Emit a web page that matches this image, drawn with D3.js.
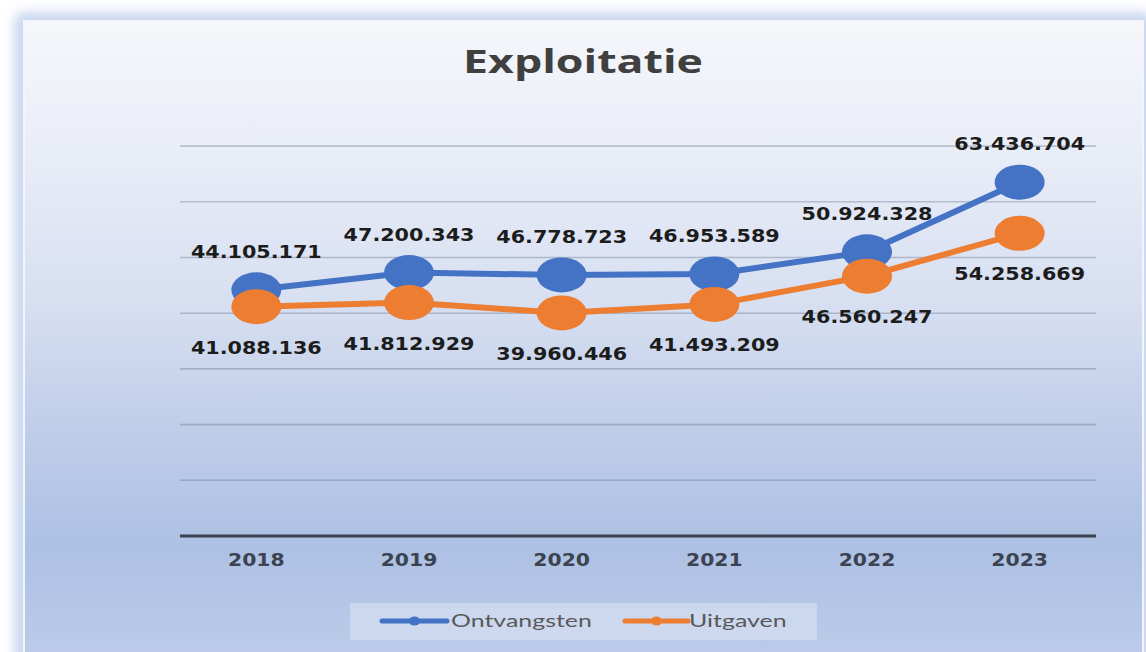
<!DOCTYPE html>
<html>
<head>
<meta charset="utf-8">
<script src="https://cdn.jsdelivr.net/npm/d3@7"></script>
<style>
html,body{margin:0;padding:0;background:#ffffff;}
svg{display:block;}
</style>
</head>
<body>
<svg id="chart" width="1146" height="652"></svg>
<script>
const years = ["2018", "2019", "2020", "2021", "2022", "2023"];
const ontvangsten = [44105171, 47200343, 46778723, 46953589, 50924328, 63436704];
const uitgaven = [41088136, 41812929, 39960446, 41493209, 46560247, 54258669];
const yTickValues = [0, 10000000, 20000000, 30000000, 40000000, 50000000, 60000000, 70000000];
const seriesNames = ["Ontvangsten", "Uitgaven"];
const seriesColors = ["#4472c4", "#ed7d31"];
const titleText = "Exploitatie";

const svg = d3.select("#chart");
const plot = {left: 180, right: 1096, top: 145.6, bottom: 535.5};

const locale = d3.formatLocale({decimal: ",", thousands: ".", grouping: [3], currency: ["€", ""]});
const fmt = locale.format(",");

// defs
const defs = svg.append("defs");
const grad = defs.append("linearGradient").attr("id", "bg").attr("x1", 0).attr("y1", 0).attr("x2", 0).attr("y2", 1);
[[0, "#f6f7fb"], [0.2, "#e9edf7"], [0.44, "#d7dff1"], [0.63, "#c0cee9"], [0.82, "#adc1e4"], [1, "#bccbe9"]]
  .forEach(([o, c]) => grad.append("stop").attr("offset", o).attr("stop-color", c));
const blur = defs.append("filter").attr("id", "glow").attr("x", -0.1).attr("y", -0.1).attr("width", 1.2).attr("height", 1.2);
blur.append("feGaussianBlur").attr("stdDeviation", 6);

// frame + glow
svg.append("rect").attr("x", 14).attr("y", 12).attr("width", 1140).attr("height", 660)
  .attr("rx", 10).attr("fill", "#c9d6f0").attr("filter", "url(#glow)");
svg.append("rect").attr("x", 24).attr("y", 21).attr("width", 1119).attr("height", 640)
  .attr("fill", "url(#bg)").attr("stroke", "#f3f5fb").attr("stroke-width", 2);

// scales
const x = d3.scaleBand().domain(years).range([plot.left, plot.right]);
const cx = d => x(d) + x.bandwidth() / 2;
const y = d3.scaleLinear().domain([0, 70000000]).range([plot.bottom, plot.top]);

// gridlines
const yAxis = d3.axisLeft(y).tickValues(yTickValues).tickSize(-(plot.right - plot.left)).tickFormat("");
const gy = svg.append("g").attr("transform", `translate(${plot.left},0)`).call(yAxis);
gy.select(".domain").remove();
gy.selectAll(".tick line").attr("stroke", "rgba(85,95,120,0.32)").attr("stroke-width", 1.6);
gy.selectAll(".tick").filter(d => d === 0).select("line").attr("stroke", "#3a414f").attr("stroke-width", 3.2);

// x axis labels
const xAxis = d3.axisBottom(x).tickSize(0).tickPadding(0);
const gx = svg.append("g").attr("transform", `translate(0,${plot.bottom})`).call(xAxis);
gx.select(".domain").remove();
gx.selectAll(".tick text")
  .attr("y", 31).attr("dy", 0)
  .attr("font-family", "DejaVu Sans").attr("font-weight", "bold").attr("font-size", 18.5)
  .attr("fill", "#3c4250")
  .attr("transform", "scale(1.1,1)");

// title
const title = svg.append("text").text(titleText)
  .attr("font-family", "Open Sans").attr("font-weight", "bold").attr("font-size", 32)
  .attr("fill", "#404040").attr("text-anchor", "middle");
{
  const w = title.node().getComputedTextLength();
  const s = 240 / w;
  title.attr("transform", `translate(583,73) scale(${s},1)`);
}

// series
const series = [ontvangsten, uitgaven];
const line = d3.line().x((d, i) => cx(years[i])).y(d => y(d));
series.forEach((vals, si) => {
  const g = svg.append("g");
  g.append("path").datum(vals).attr("d", line).attr("fill", "none")
    .attr("stroke", seriesColors[si]).attr("stroke-width", 6).attr("stroke-linejoin", "round");
  g.selectAll("ellipse").data(vals).join("ellipse")
    .attr("cx", (d, i) => cx(years[i])).attr("cy", d => y(d))
    .attr("rx", 25).attr("ry", 17.5).attr("fill", seriesColors[si]);
});

// data labels
series.forEach((vals, si) => {
  svg.append("g").selectAll("text").data(vals).join("text")
    .text(d => fmt(d))
    .attr("font-family", "DejaVu Sans").attr("font-weight", "bold").attr("font-size", 18)
    .attr("fill", "#1c1c1c").attr("text-anchor", "middle")
    .attr("transform", (d, i) => `translate(${cx(years[i])},${y(d) + (si === 0 ? -32 : 47)}) scale(1.15,1)`);
});

// legend
const leg = svg.append("g");
leg.append("rect").attr("x", 350).attr("y", 603).attr("width", 467).attr("height", 37)
  .attr("fill", "#ffffff").attr("opacity", 0.3);
const legItems = [{x0: 382, x1: 447, tx: 451}, {x0: 625, x1: 688, tx: 689}];
let legScale = null;
seriesNames.forEach((name, i) => {
  const it = legItems[i];
  leg.append("line").attr("x1", it.x0).attr("x2", it.x1).attr("y1", 621).attr("y2", 621)
    .attr("stroke", seriesColors[i]).attr("stroke-width", 5).attr("stroke-linecap", "round");
  leg.append("ellipse").attr("cx", (it.x0 + it.x1) / 2).attr("cy", 621).attr("rx", 5.5).attr("ry", 4.5)
    .attr("fill", seriesColors[i]);
  const t = leg.append("text").text(name)
    .attr("font-family", "Lato").attr("font-size", 18).attr("fill", "#595959");
  if (legScale === null) legScale = 141 / t.node().getComputedTextLength();
  t.attr("transform", `translate(${it.tx},627) scale(${legScale},1)`);
});
</script>
</body>
</html>
